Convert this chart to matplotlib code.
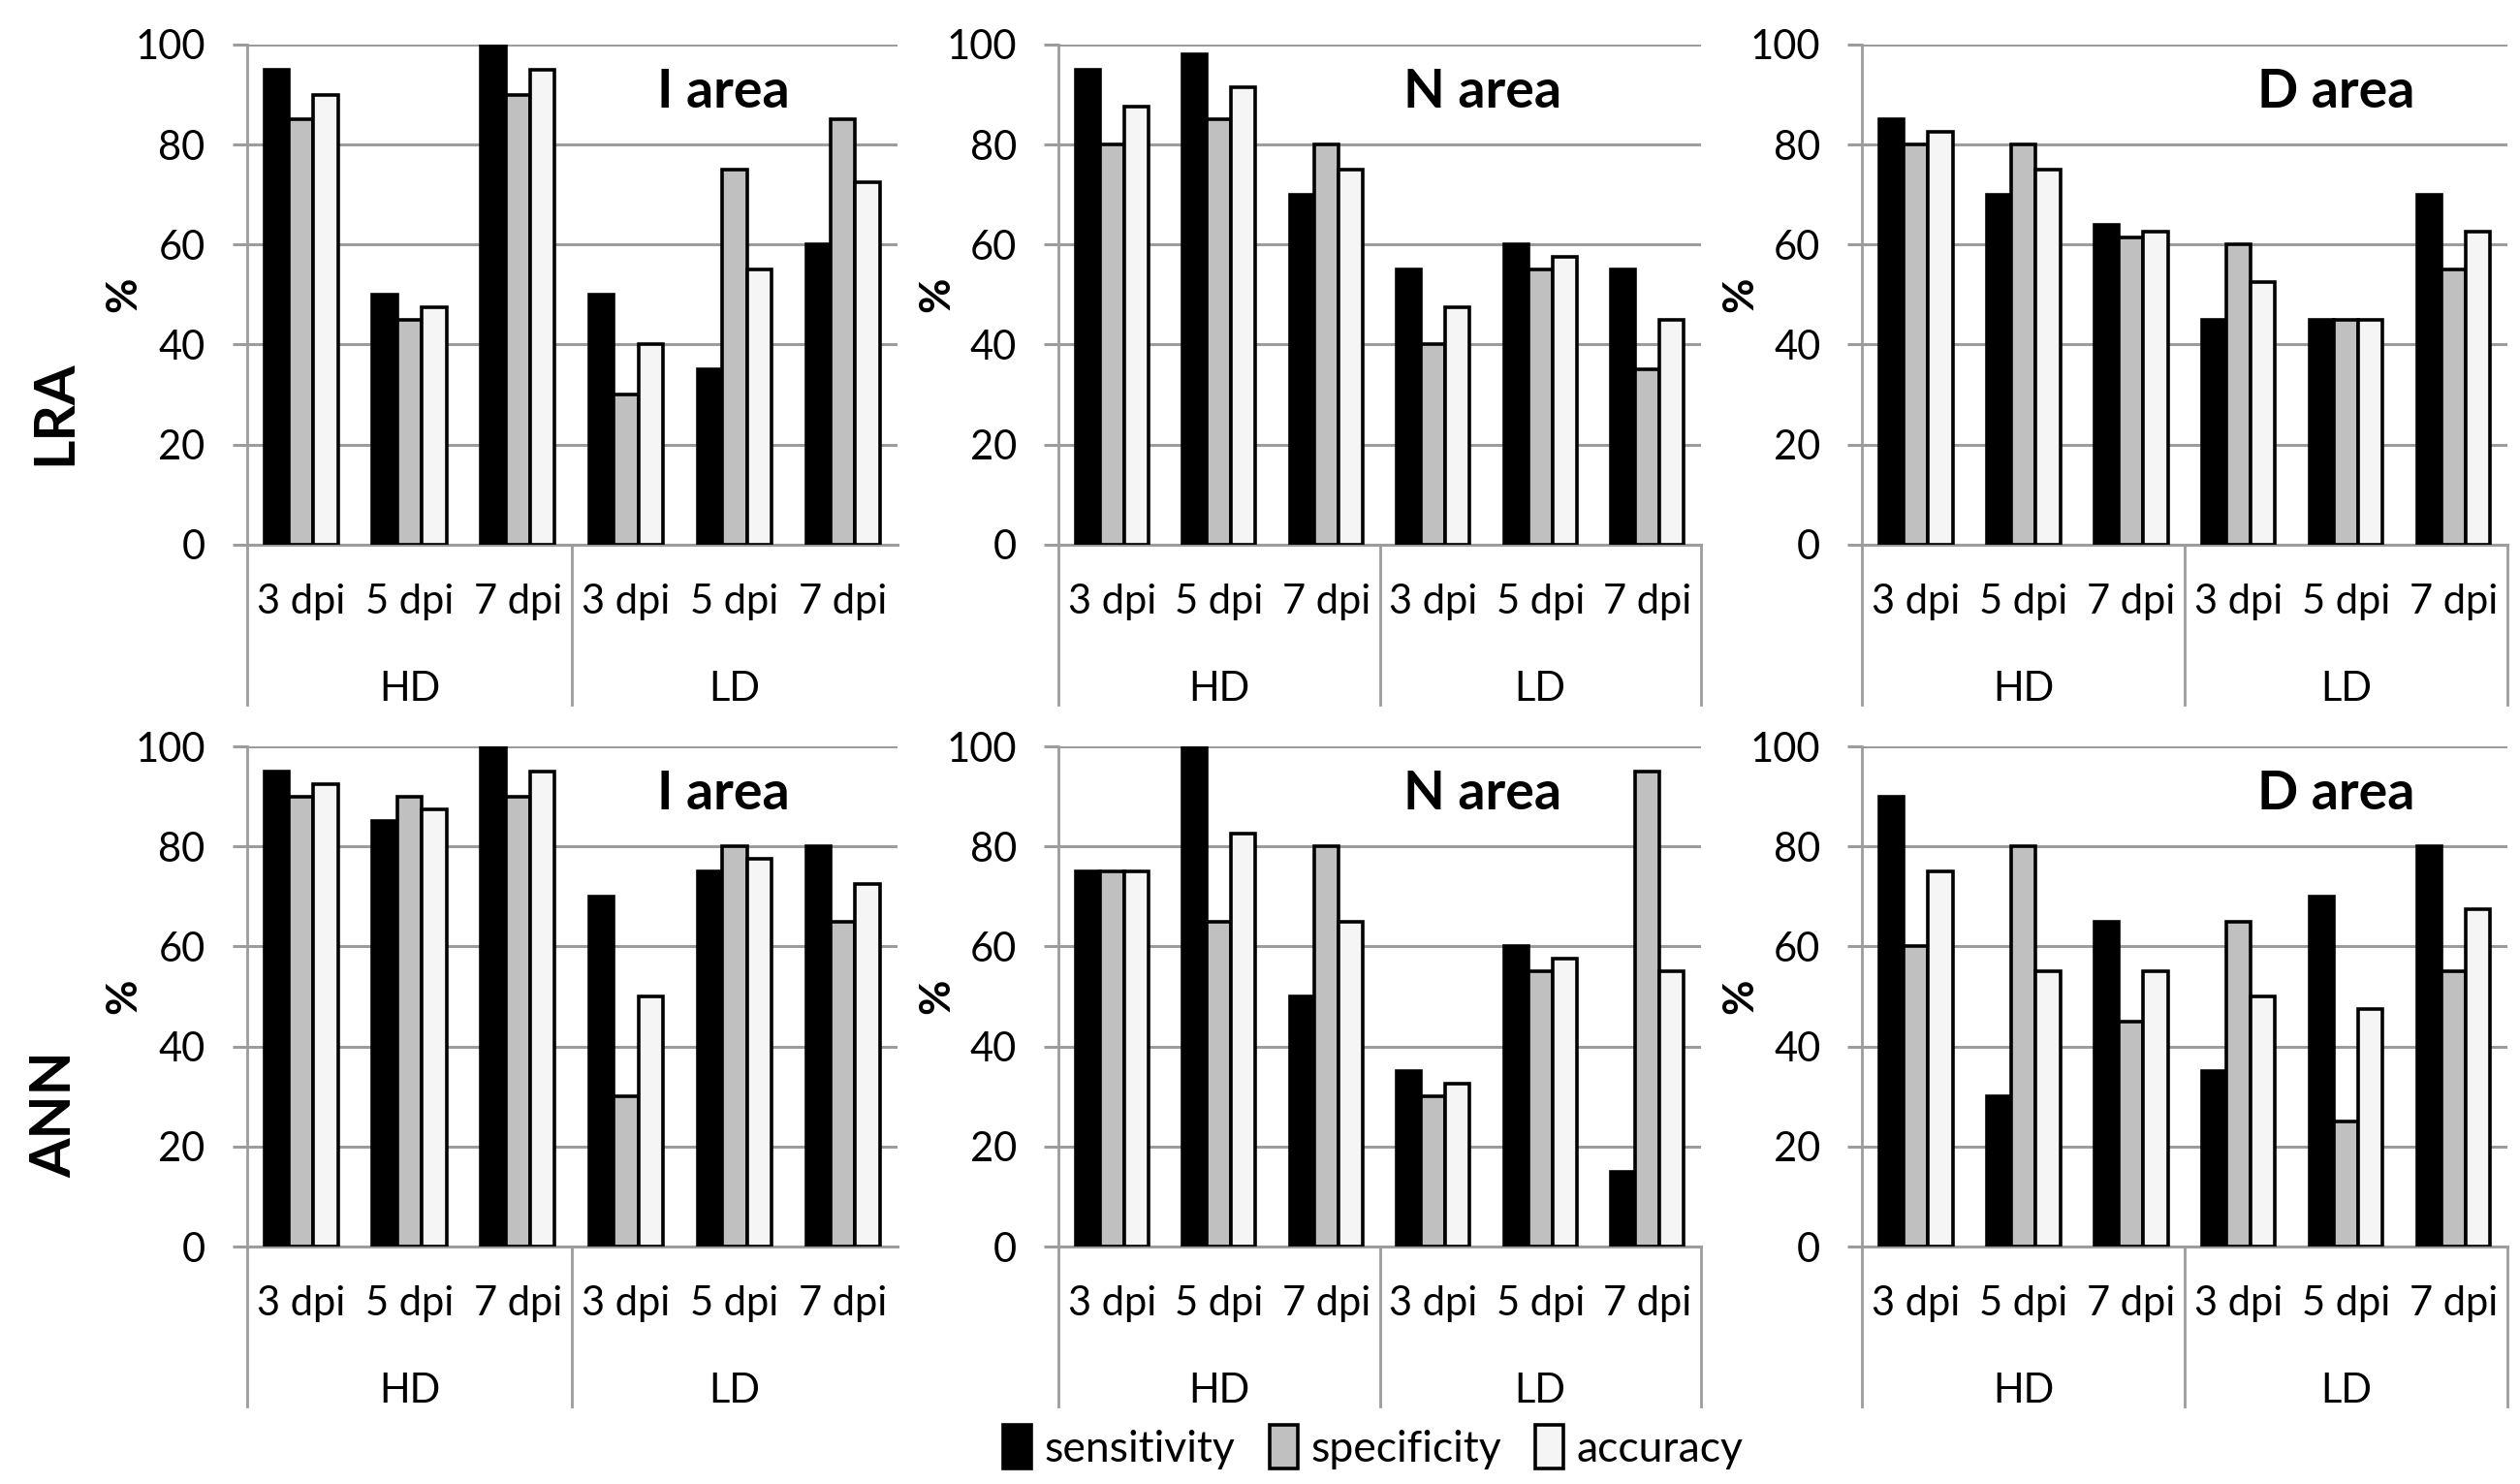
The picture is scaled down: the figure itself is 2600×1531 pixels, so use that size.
import matplotlib
matplotlib.use("Agg")
import matplotlib.pyplot as plt
from matplotlib.patches import Patch
import numpy as np

plt.rcParams['font.family'] = ['Lato', 'DejaVu Sans']

dpi_labels = ['3 dpi', '5 dpi', '7 dpi', '3 dpi', '5 dpi', '7 dpi']
groups = ['HD', 'LD']
areas = ['I area', 'N area', 'D area']
methods = ['LRA', 'ANN']
series_names = ['sensitivity', 'specificity', 'accuracy']

# LRA
lra_i_sens = [95, 50, 100, 50, 35, 60]
lra_i_spec = [85, 45, 90, 30, 75, 85]
lra_i_acc = [90, 47.5, 95, 40, 55, 72.5]
lra_n_sens = [95, 98, 70, 55, 60, 55]
lra_n_spec = [80, 85, 80, 40, 55, 35]
lra_n_acc = [87.5, 91.5, 75, 47.5, 57.5, 45]
lra_d_sens = [85, 70, 64, 45, 45, 70]
lra_d_spec = [80, 80, 61.5, 60, 45, 55]
lra_d_acc = [82.5, 75, 62.5, 52.5, 45, 62.5]

# ANN
ann_i_sens = [95, 85, 100, 70, 75, 80]
ann_i_spec = [90, 90, 90, 30, 80, 65]
ann_i_acc = [92.5, 87.5, 95, 50, 77.5, 72.5]
ann_n_sens = [75, 100, 50, 35, 60, 15]
ann_n_spec = [75, 65, 80, 30, 55, 95]
ann_n_acc = [75, 82.5, 65, 32.5, 57.5, 55]
ann_d_sens = [90, 30, 65, 35, 70, 80]
ann_d_spec = [60, 80, 45, 65, 25, 55]
ann_d_acc = [75, 55, 55, 50, 47.5, 67.5]

data = [
    [(lra_i_sens, lra_i_spec, lra_i_acc), (lra_n_sens, lra_n_spec, lra_n_acc), (lra_d_sens, lra_d_spec, lra_d_acc)],
    [(ann_i_sens, ann_i_spec, ann_i_acc), (ann_n_sens, ann_n_spec, ann_n_acc), (ann_d_sens, ann_d_spec, ann_d_acc)],
]

colors = ['#000000', '#c0c0c0', '#f5f5f5']
grid_col = '#9c9c9c'

fig = plt.figure(figsize=(26, 15.31), dpi=100)

lefts = [0.098, 0.420, 0.739]
widths = [0.258, 0.255, 0.256]
bottoms = [0.633, 0.160]
height = 0.337
title_x = [0.733, 0.66, 0.735]
draw_right = [False, True, True]

x = np.arange(6)
w = 0.227

for r in range(2):
    for c in range(3):
        ax = fig.add_axes([lefts[c], bottoms[r], widths[c], height])
        for k in range(3):
            ax.bar(x + (k - 1) * w, data[r][c][k], width=w, color=colors[k],
                   edgecolor='black', linewidth=2.6, zorder=3)
        ax.set_xlim(-0.5, 5.5)
        ax.set_ylim(0, 100)
        ax.set_yticks(range(0, 101, 20))
        ax.yaxis.grid(True, color=grid_col, linewidth=2.2, zorder=0)
        ax.set_axisbelow(True)
        for s in ['top', 'right', 'bottom']:
            ax.spines[s].set_visible(False)
        ax.spines['left'].set_color(grid_col)
        ax.spines['left'].set_linewidth(2.0)
        ax.tick_params(axis='y', length=11, width=2.2, color=grid_col,
                       labelsize=30, pad=20)
        ax.tick_params(axis='x', bottom=False, labelbottom=False)
        ax.set_ylabel('%', fontsize=32, fontweight='bold')
        ax.yaxis.set_label_coords(-0.16, 0.5)

        trans = ax.get_xaxis_transform()
        # x axis line at 0
        ax.plot([-0.5, 5.5], [0, 0], transform=trans, color=grid_col,
                linewidth=2.2, clip_on=False, zorder=2)
        for i, lab in enumerate(dpi_labels):
            ax.text(i, -0.115, lab, transform=trans, ha='center', va='center',
                    fontsize=30)
        for g, lab in enumerate(groups):
            ax.text(1 + 3 * g, -0.289, lab, transform=trans, ha='center',
                    va='center', fontsize=30)
        seps = [-0.5, 2.5] + ([5.5] if draw_right[c] else [])
        for sx in seps:
            ax.plot([sx, sx], [0, -0.32], transform=trans, color=grid_col,
                    linewidth=2.0, clip_on=False)

        ax.text(title_x[c], 0.905, areas[c], transform=ax.transAxes,
                ha='center', va='center', fontsize=40, fontweight='bold')

fig.text(0.022, 0.722, methods[0], rotation=90, ha='center', va='center',
         fontsize=42, fontweight='bold')
fig.text(0.022, 0.249, methods[1], rotation=90, ha='center', va='center',
         fontsize=42, fontweight='bold')

handles = [Patch(facecolor=colors[k], edgecolor='black', linewidth=2.6)
           for k in range(3)]
fig.legend(handles, series_names, loc='center', bbox_to_anchor=(0.545, 0.025),
           ncol=3, frameon=False, fontsize=32, handlelength=0.65,
           handleheight=1.2, handletextpad=0.3, columnspacing=0.8)

fig.savefig('out.png', dpi=100)
